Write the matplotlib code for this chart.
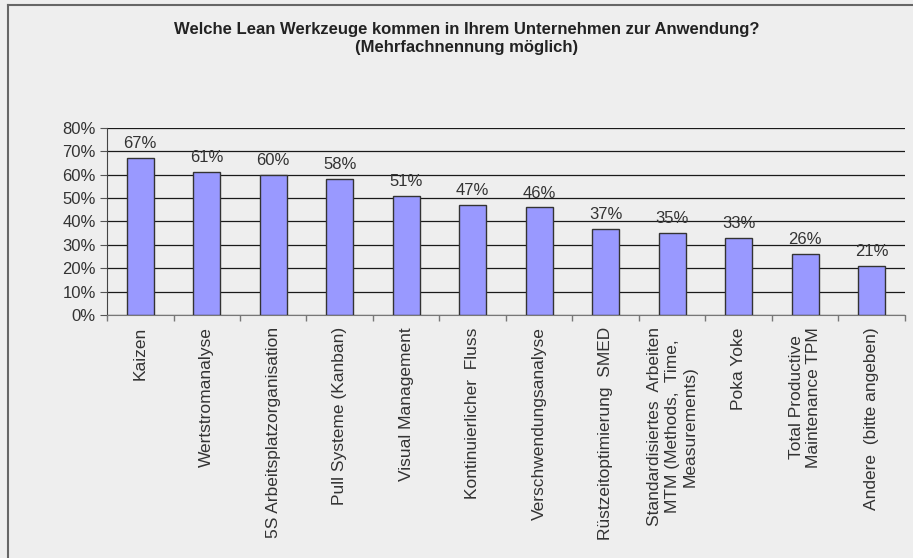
import numpy as np
import matplotlib.pyplot as plt
from matplotlib.lines import Line2D
from matplotlib.ticker import FuncFormatter, FixedLocator

plt.rcParams['font.family'] = ['Liberation Sans', 'DejaVu Sans']

tools = ['Kaizen', 'Wertstromanalyse', '5S Arbeitsplatzorganisation',
         'Pull Systeme (Kanban)', 'Visual Management', 'Kontinuierlicher  Fluss',
         'Verschwendungsanalyse', 'Rüstzeitoptimierung  SMED',
         'Standardisiertes  Arbeiten\nMTM (Methods,  Time,\nMeasurements)',
         'Poka Yoke', 'Total Productive\nMaintenance TPM', 'Andere  (bitte angeben)']
shares = [67, 61, 60, 58, 51, 47, 46, 37, 35, 33, 26, 21]

title = ('Welche Lean Werkzeuge kommen in Ihrem Unternehmen zur Anwendung?\n'
         '(Mehrfachnennung möglich)')

bg = '#eeeeee'
fig = plt.figure(figsize=(9.13, 5.58), dpi=100, facecolor=bg)
ax = fig.add_axes([0.1172, 0.4355, 0.874, 0.3351], facecolor=bg)

x = np.arange(len(tools))
bars = ax.bar(x, shares, width=0.4, color='#9999ff', edgecolor='#333333',
              linewidth=1.0, zorder=3)

for xi, v in zip(x, shares):
    ax.annotate(f'{v}%', (xi, v), xytext=(0, 5), textcoords='offset points',
                ha='center', va='bottom', fontsize=12, color='#333333')

ax.set_xlim(-0.5, len(tools) - 0.5)
ax.set_ylim(0, 80)
ax.set_yticks(range(0, 81, 10))
ax.yaxis.set_major_formatter(FuncFormatter(lambda v, p: f'{v:.0f}%'))
ax.grid(axis='y', color='#1a1a1a', linewidth=0.9, zorder=0)

# category labels sit between the boundary ticks
ax.xaxis.set_major_locator(FixedLocator(np.arange(-0.5, len(tools), 1.0)))
ax.xaxis.set_major_formatter(FuncFormatter(lambda v, p: ''))
ax.tick_params(axis='x', length=4, color='#777777', width=1)
ax.tick_params(axis='y', length=5, color='#555555', labelsize=12,
               labelcolor='#333333', pad=3)
for xi, name in zip(x, tools):
    ax.text(xi, -0.065, name, rotation=90, ha='center', va='top',
            multialignment='center', fontsize=12.5, color='#333333',
            transform=ax.get_xaxis_transform())

for side in ('top', 'right'):
    ax.spines[side].set_visible(False)
ax.spines['left'].set_color('#444444')
ax.spines['bottom'].set_color('#777777')

fig.text(0.511, 0.961, title, ha='center', va='top', fontsize=12,
         fontweight='bold', color='#222222', linespacing=1.3)

# outer chart frame (left and top edges)
fig.add_artist(Line2D([0.0088, 0.0088], [0, 0.991], transform=fig.transFigure,
                      color='#666666', linewidth=1.5))
fig.add_artist(Line2D([0.0088, 1.0], [0.991, 0.991], transform=fig.transFigure,
                      color='#666666', linewidth=1.5))

fig.savefig('out.png', dpi=100, facecolor=bg)
